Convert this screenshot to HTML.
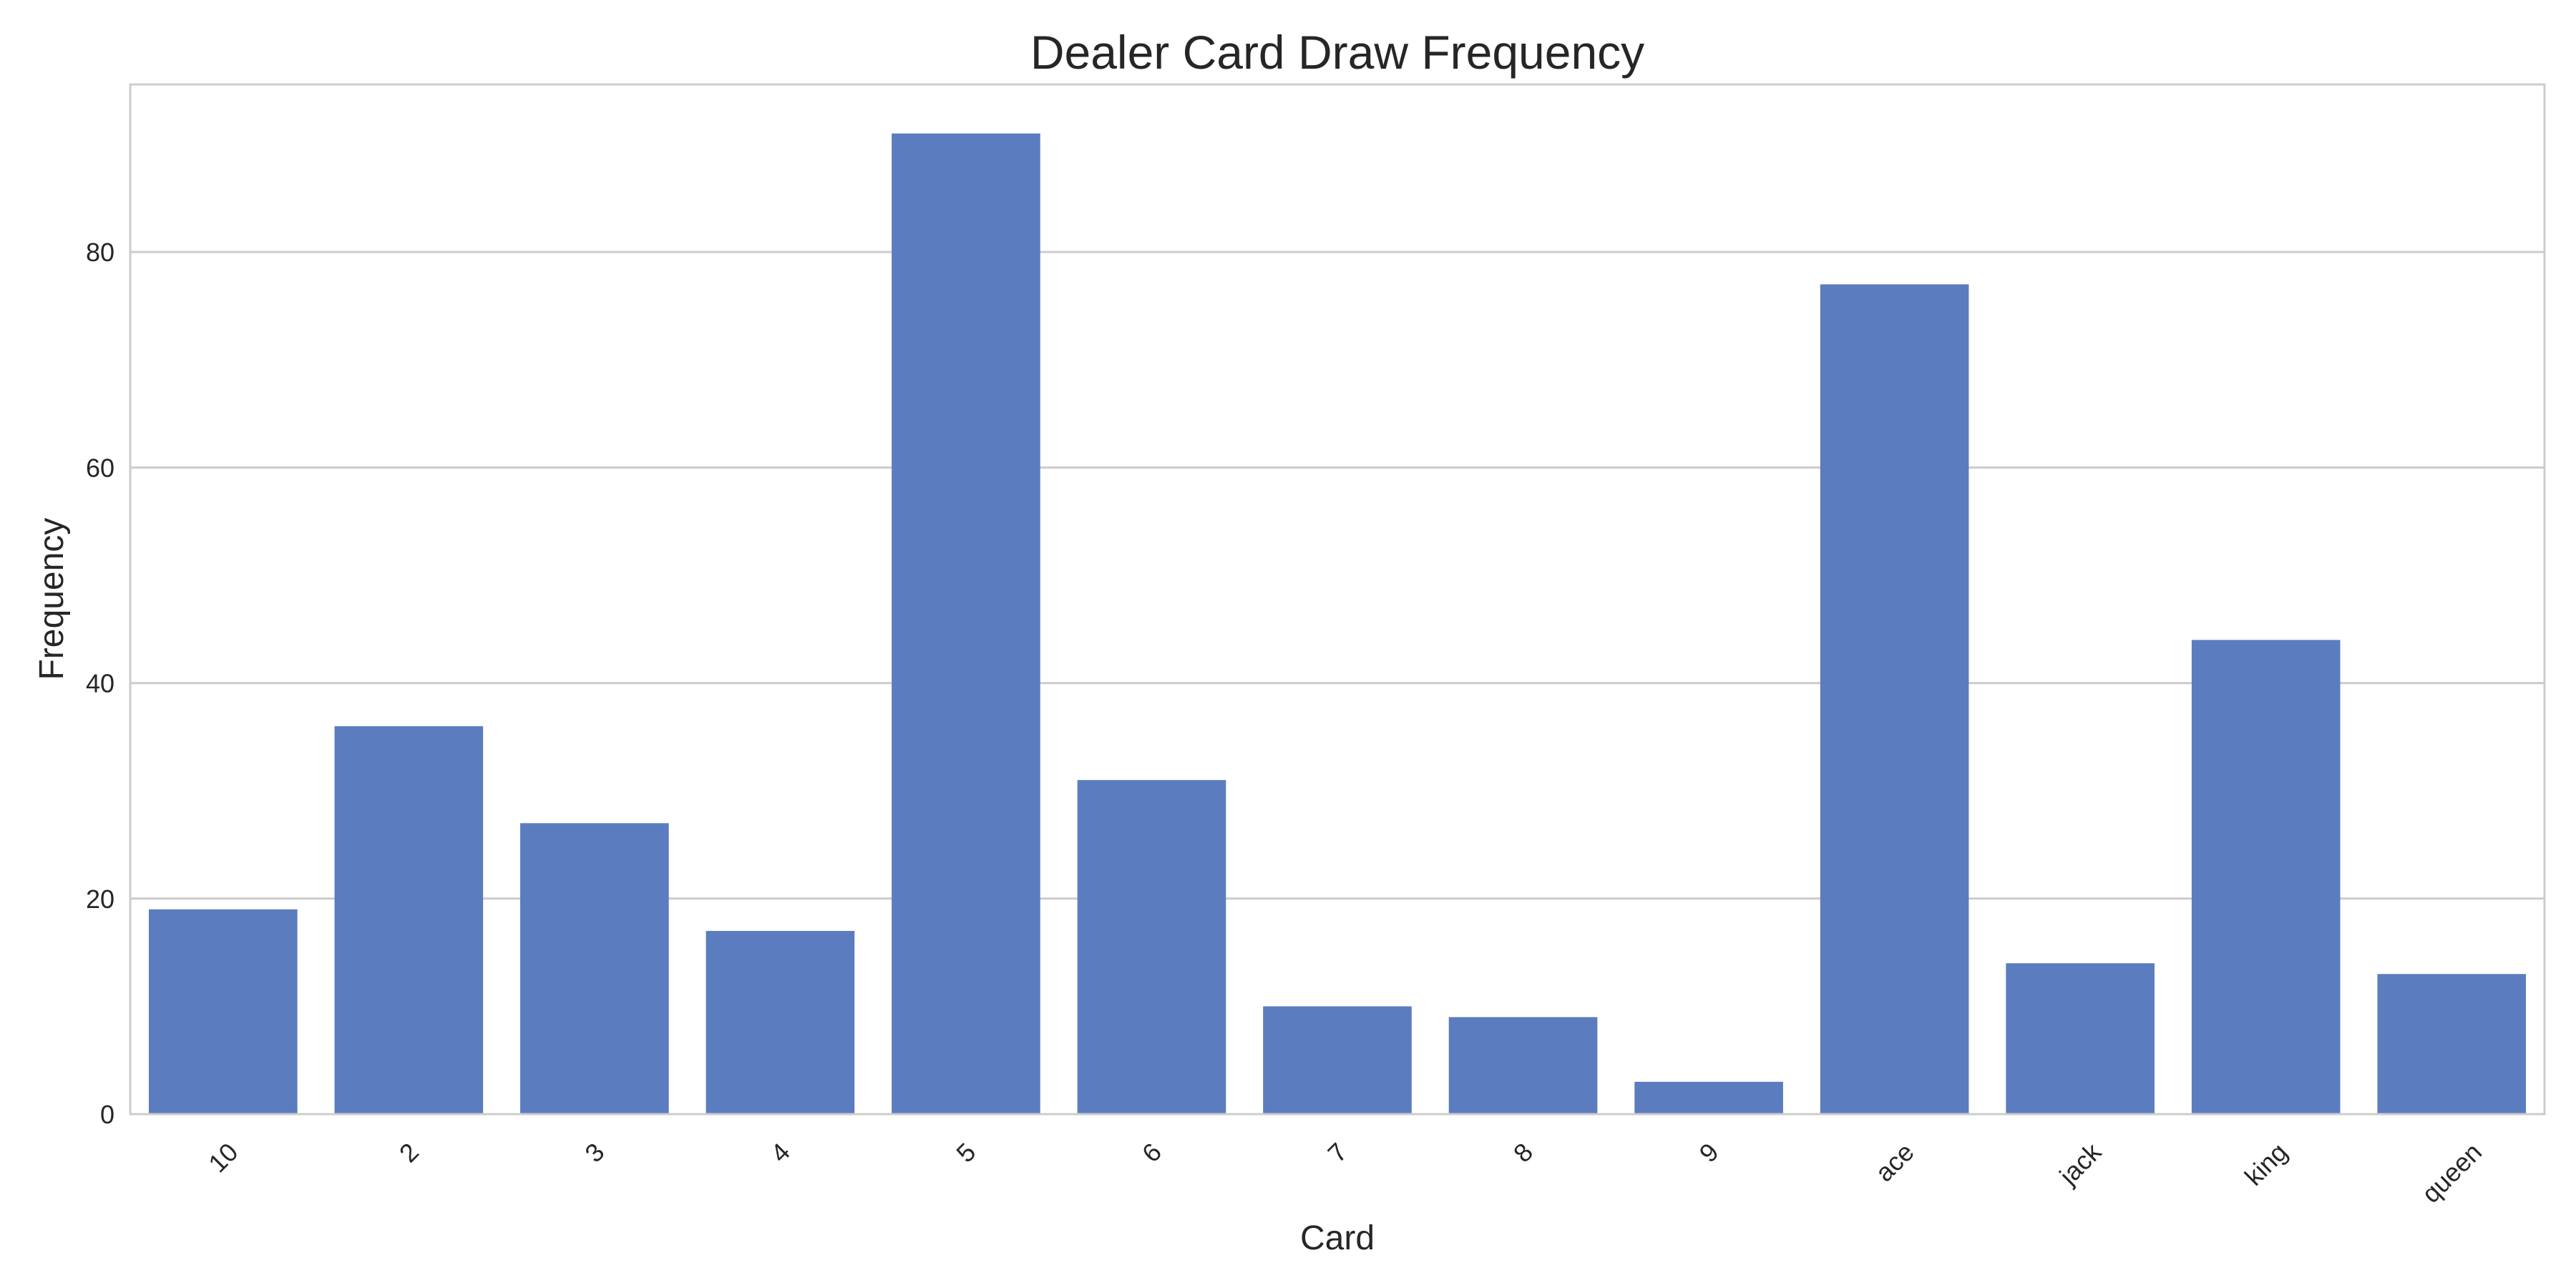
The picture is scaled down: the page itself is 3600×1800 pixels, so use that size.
<!DOCTYPE html>
<html><head><meta charset="utf-8"><style>
html,body{margin:0;padding:0;background:#fff;}
svg{display:block;font-family:"Liberation Sans",Arial,sans-serif;}
</style></head><body>
<svg id="chart" width="3600" height="1800" viewBox="0 0 3600 1800" xmlns="http://www.w3.org/2000/svg">
<rect x="0" y="0" width="3600" height="1800" fill="#fff"/>
<text x="1869" y="96" font-size="66" fill="#262626" text-anchor="middle">Dealer Card Draw Frequency</text>
<g id="grid"></g>
<g id="bars"></g>
<rect x="182" y="118" width="3374" height="1439" fill="none" stroke="#cccccc" stroke-width="3"/>
<g id="yticks"></g>
<g id="xticks"></g>
<text x="0" y="0" transform="translate(88,837) rotate(-90)" font-size="48" fill="#262626" text-anchor="middle">Frequency</text>
<text x="1869" y="1746" font-size="48" fill="#262626" text-anchor="middle">Card</text>
</svg>
<script>
const categories = ["10","2","3","4","5","6","7","8","9","ace","jack","king","queen"];
const frequencies = [19,36,27,17,91,31,10,9,3,77,14,44,13];
const yTickValues = [0,20,40,60,80];

const NS = "http://www.w3.org/2000/svg";
const L = 182, R = 3556, T = 118, B = 1557;
const yMax = Math.max(...frequencies) * 1.05;
const slot = (R - L) / categories.length;
function yScale(v){ return B - v / yMax * (B - T); }
function xCenter(i){ return L + slot * (i + 0.5); }

const grid = document.getElementById('grid');
const yt = document.getElementById('yticks');
yTickValues.forEach(v => {
  const y = yScale(v);
  if (v > 0) {
    const ln = document.createElementNS(NS, 'line');
    
    
    ln.setAttribute('x1', L); ln.setAttribute('x2', R);
    ln.setAttribute('y1', y); ln.setAttribute('y2', y);
    ln.setAttribute('stroke', '#cccccc'); ln.setAttribute('stroke-width', '3');
    grid.appendChild(ln);
  }
  const t = document.createElementNS(NS, 'text');
  
  
  t.setAttribute('x', L - 22); t.setAttribute('y', y + 13);
  t.setAttribute('font-size', '36'); t.setAttribute('fill', '#262626');
  t.setAttribute('text-anchor', 'end');
  t.textContent = v;
  yt.appendChild(t);
});

const bars = document.getElementById('bars');
const xt = document.getElementById('xticks');
categories.forEach((c, i) => {
  const w = slot * 0.8;
  const r = document.createElementNS(NS, 'rect');
  
  
  r.setAttribute('x', xCenter(i) - w / 2);
  r.setAttribute('y', yScale(frequencies[i]));
  r.setAttribute('width', w);
  r.setAttribute('height', B - yScale(frequencies[i]));
  r.setAttribute('fill', '#5b7dbf');
  bars.appendChild(r);

  const t = document.createElementNS(NS, 'text');
  
  
  t.setAttribute('font-size', '36'); t.setAttribute('fill', '#262626');
  t.setAttribute('text-anchor', 'middle');
  t.setAttribute('dominant-baseline', 'central');
  t.textContent = c;
  xt.appendChild(t);
  const len = t.getComputedTextLength();
  const half = (len + 30) * 0.7071 / 2;
  const cy = B + 36 + half;
  t.setAttribute('x', 0); t.setAttribute('y', 0);
  t.setAttribute('transform', 'translate(' + xCenter(i) + ',' + cy + ') rotate(-45)');
});
</script>
</body></html>
